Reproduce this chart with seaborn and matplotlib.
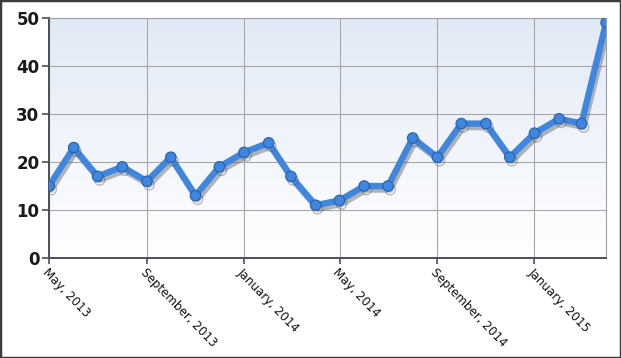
import numpy as np
import pandas as pd
import matplotlib
matplotlib.use("Agg")
from matplotlib import pyplot as plt
import matplotlib.dates as mdates
import matplotlib.patheffects as pe
import seaborn as sns

# Monthly counts, May 2013 - April 2015
months = pd.date_range("2013-05-01", "2015-04-01", freq="MS")
counts = [15, 23, 17, 19, 16, 21, 13, 19, 22, 24, 17, 11,
          12, 15, 15, 25, 21, 28, 28, 21, 26, 29, 28, 49]
yticks = [0, 10, 20, 30, 40, 50]

df = pd.DataFrame({"month": months, "count": counts})

sns.set_theme(style="white")
plt.rcParams["font.family"] = ["DejaVu Sans"]

fig = plt.figure(figsize=(6.21, 3.58), dpi=100)
ax = fig.add_axes([0.079, 0.279, 0.897, 0.671])

# soft blue gradient behind the plot
grad = np.linspace(0, 1, 256).reshape(-1, 1)
cmap = matplotlib.colors.LinearSegmentedColormap.from_list("bg", ["#ffffff", "#e1e9f6"])
ax.imshow(grad, cmap=cmap, aspect="auto", extent=[0, 1, 0, 1],
          transform=ax.transAxes, origin="lower", zorder=0)

sns.lineplot(data=df, x="month", y="count", ax=ax, color="#3f86de",
             linewidth=4.6, marker="o", markersize=7.5,
             markerfacecolor="#3f86de", markeredgecolor="#2a64b5",
             markeredgewidth=0.9, zorder=3,
             path_effects=[pe.SimpleLineShadow(offset=(1.5, -2.5), shadow_color="#606060", alpha=0.45),
                           pe.Normal()])

ax.set_xlim(months[0], months[-1])
ax.set_ylim(0, 50)
ax.set_yticks(yticks)
ax.xaxis.set_major_locator(mdates.MonthLocator(bymonth=[1, 5, 9]))
ax.xaxis.set_major_formatter(mdates.DateFormatter("%B, %Y"))

ax.grid(True, color="#a8a8a8", linewidth=0.8, zorder=1)
ax.set_axisbelow(True)
for s in ["top", "right"]:
    ax.spines[s].set_color("#9aa0a8")
    ax.spines[s].set_linewidth(0.8)
for s in ["left", "bottom"]:
    ax.spines[s].set_color("#4a5058")
    ax.spines[s].set_linewidth(1.4)

ax.tick_params(axis="y", labelsize=12, length=5, width=1.2, color="#4a5058",
               left=True, pad=2, labelcolor="#1a1a1a")
ax.tick_params(axis="x", labelsize=8.6, length=4, width=1.2, color="#4a5058",
               bottom=True, pad=2, labelcolor="#111111")
for lab in ax.get_yticklabels():
    lab.set_fontweight("bold")
plt.setp(ax.get_xticklabels(), rotation=-46, ha="left", va="top", rotation_mode="anchor")

ax.set_xlabel("")
ax.set_ylabel("")

# dark frame around the whole image
fig.patches.append(plt.Rectangle((0, 0), 1, 1, transform=fig.transFigure, fill=False,
                                 edgecolor="#3c3c3c", linewidth=2.5))

fig.savefig("out.png", dpi=100)
